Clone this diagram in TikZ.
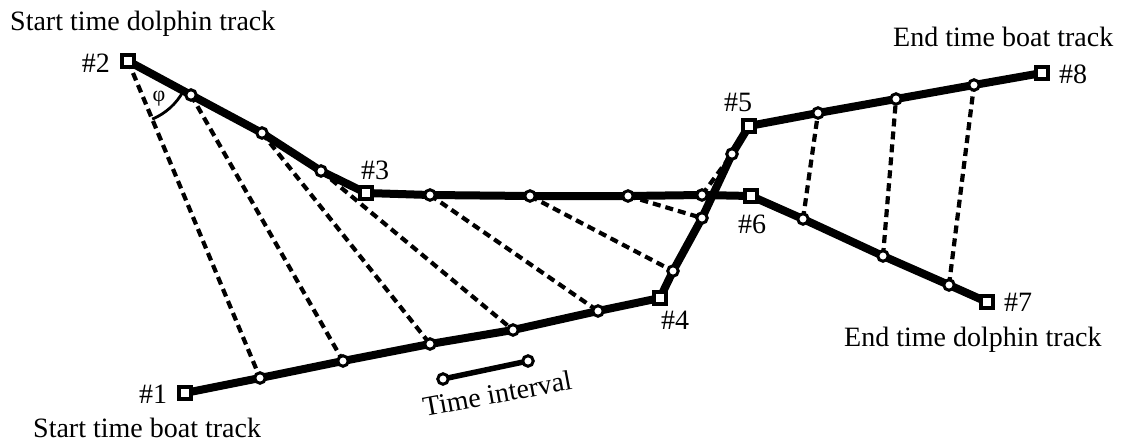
\documentclass[tikz,border=0pt]{standalone}
\usepackage{fontspec}
\setmainfont{Liberation Serif}
\pgfdeclarelayer{back}
\pgfsetlayers{back,main}
\begin{document}
\begin{tikzpicture}[x=1pt,y=-1pt,
  sq/.style={rectangle, draw, fill=white, line width=3.2pt, minimum size=12pt, inner sep=0pt},
  dot/.style={circle, draw, fill=white, line width=3pt, minimum size=10.5pt, inner sep=0pt},
  track/.style={line width=8pt, line join=round},
  link/.style={line width=4.2pt, dash pattern=on 8pt off 5pt},
  lbl/.style={font=\fontsize{28}{32}\selectfont, inner sep=0pt},
]
\useasboundingbox (0,0) rectangle (1122,444);

% dolphin track
\node[sq]  (p2)  at (128,61)  {};
\node[dot] (d1)  at (191,95)  {};
\node[dot] (d2)  at (262,133) {};
\node[dot] (d3)  at (321,171) {};
\node[sq]  (p3)  at (366,193) {};
\node[dot] (d4)  at (430,195) {};
\node[dot] (d5)  at (530,196) {};
\node[dot] (d6)  at (628,196) {};
\node[dot] (d7)  at (702,195) {};
\node[sq]  (p6)  at (751,196) {};
\node[dot] (d8)  at (803,219) {};
\node[dot] (d9)  at (883,256) {};
\node[dot] (d10) at (949,285) {};
\node[sq]  (p7)  at (987,302) {};

% boat track
\node[sq]  (p1)  at (185,393) {};
\node[dot] (b1)  at (260,378) {};
\node[dot] (b2)  at (343,361) {};
\node[dot] (b3)  at (430,344) {};
\node[dot] (b4)  at (513,330) {};
\node[dot] (b5)  at (598,311) {};
\node[sq]  (p4)  at (660,298) {};
\node[dot] (b6)  at (673,271) {};
\node[dot] (b7)  at (702,218) {};
\node[dot] (b8)  at (732,154) {};
\node[sq]  (p5)  at (749,126) {};
\node[dot] (b9)  at (818,113) {};
\node[dot] (b10) at (896,99)  {};
\node[dot] (b11) at (974,85)  {};
\node[sq]  (p8)  at (1042,73) {};

% time interval legend
\node[dot] (t1) at (443,379) {};
\node[dot] (t2) at (528,361) {};

\begin{pgfonlayer}{back}
  % simultaneous positions
  \draw[link] (p2.center)  -- (b1.center);
  \draw[link] (d1.center)  -- (b2.center);
  \draw[link] (d2.center)  -- (b3.center);
  \draw[link] (d3.center)  -- (b4.center);
  \draw[link] (d4.center)  -- (b5.center);
  \draw[link] (d5.center)  -- (b6.center);
  \draw[link] (d6.center)  -- (b7.center);
  \draw[link] (d7.center)  -- (b8.center);
  \draw[link] (d8.center)  -- (b9.center);
  \draw[link] (d9.center)  -- (b10.center);
  \draw[link] (d10.center) -- (b11.center);
  % tracks
  \draw[track] (p2.center) -- (d1.center) -- (d2.center) -- (d3.center) -- (p3.center)
    -- (d4.center) -- (d5.center) -- (d6.center) -- (d7.center) -- (p6.center)
    -- (d8.center) -- (d9.center) -- (d10.center) -- (p7.center);
  \draw[track] (p1.center) -- (b1.center) -- (b2.center) -- (b3.center) -- (b4.center)
    -- (b5.center) -- (p4.center) -- (b6.center) -- (b7.center) -- (b8.center)
    -- (p5.center) -- (b9.center) -- (b10.center) -- (b11.center) -- (p8.center);
  \draw[line width=5.5pt] (t1.center) -- (t2.center);
\end{pgfonlayer}

% angle phi at the start of the dolphin track
\draw[line width=2.8pt] (p2.center) ++(28.4:63) arc[start angle=28.4, end angle=67.4, radius=63];
\node[font=\fontsize{22}{24}\selectfont, inner sep=0pt] (phi) at (159,99) {φ};

% point labels
\node[lbl, anchor=east] (l2) at (110,63) {\#2};
\node[lbl] (l1) at (153,394) {\#1};
\node[lbl] (l3) at (375,170) {\#3};
\node[lbl] (l4) at (675,320) {\#4};
\node[lbl] (l5) at (738,102) {\#5};
\node[lbl] (l6) at (752,224) {\#6};
\node[lbl] (l7) at (1018,302) {\#7};
\node[lbl] (l8) at (1073,74) {\#8};

% captions
\node[lbl, anchor=base west] (sd) at (10,31)  {Start time dolphin track};
\node[lbl, anchor=base west] (sb) at (33,437) {Start time boat track};
\node[lbl, anchor=base west] (eb) at (893,47) {End time boat track};
\node[lbl, anchor=base west] (ed) at (844,346) {End time dolphin track};
\node[lbl, anchor=base, rotate=10.5] (ti) at (499,403) {Time interval};
\end{tikzpicture}
\end{document}
